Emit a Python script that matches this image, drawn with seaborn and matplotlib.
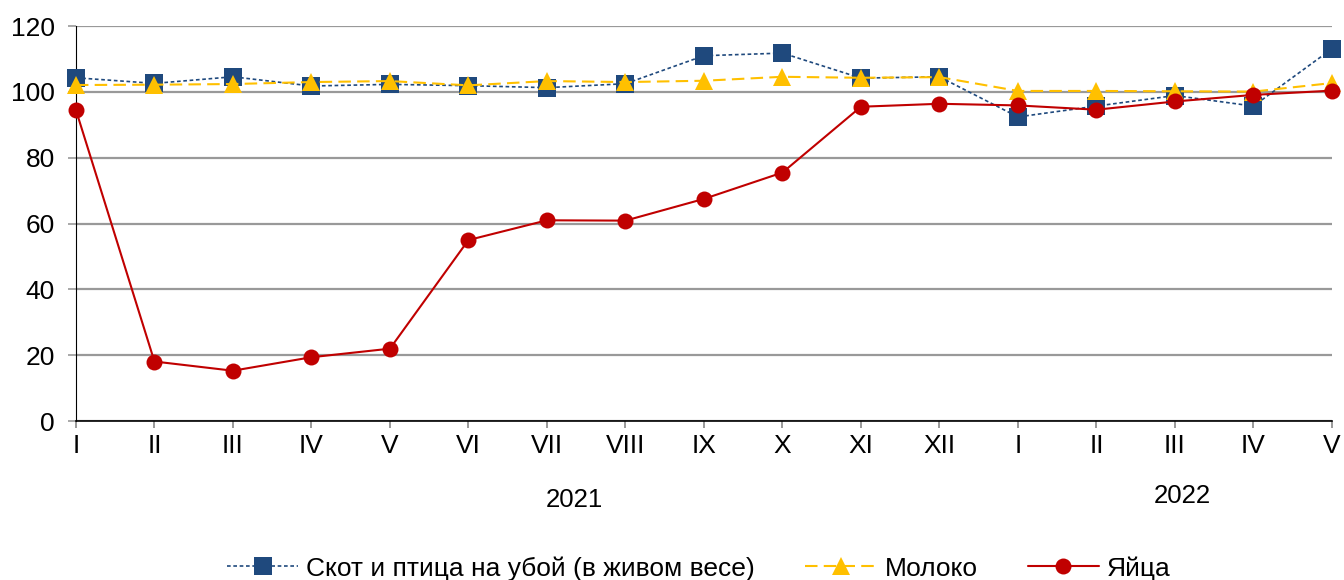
"""Индексы производства: скот и птица, молоко, яйца (2021-2022)."""
import matplotlib
matplotlib.use('Agg')
import matplotlib.pyplot as plt
import matplotlib.transforms as mtransforms
import seaborn as sns
import pandas as pd

months = ['I', 'II', 'III', 'IV', 'V', 'VI', 'VII', 'VIII', 'IX', 'X', 'XI', 'XII',
          'I', 'II', 'III', 'IV', 'V']
livestock = [104.3, 102.6, 104.6, 101.8, 102.3, 101.9, 101.3, 102.5, 111.0, 111.8,
             104.2, 104.6, 92.4, 95.7, 98.9, 95.7, 113.1]
milk = [102.1, 102.2, 102.4, 103.0, 103.3, 102.0, 103.3, 103.0, 103.4, 104.6,
        104.3, 104.5, 100.3, 100.3, 100.2, 100.1, 102.7]
eggs = [94.5, 18.1, 15.3, 19.4, 22.0, 55.0, 61.0, 60.9, 67.5, 75.5,
        95.5, 96.4, 95.9, 94.6, 97.1, 99.1, 100.4]
years = ['2021', '2022']
year_pos = [6.35, 14.1]

labels = ['Скот и птица на убой (в живом весе)', 'Молоко', 'Яйца']

df = pd.DataFrame({'pos': range(len(months)), 'livestock': livestock,
                   'milk': milk, 'eggs': eggs})

sns.set_style('white')
plt.rcParams['font.family'] = ['Liberation Sans', 'DejaVu Sans']
plt.rcParams['text.color'] = 'black'

fig = plt.figure(figsize=(13.44, 5.8), dpi=100)
ax = fig.add_axes([0.0565, 0.274, 0.9345, 0.681])

sns.lineplot(data=df, x='pos', y='livestock', ax=ax, color='#1F497D',
             linestyle=(0, (2.2, 1.6)), linewidth=1.2, marker='s', markersize=12.5,
             markeredgewidth=0, label=labels[0], clip_on=False, zorder=3)
sns.lineplot(data=df, x='pos', y='milk', ax=ax, color='#FFC000',
             linestyle=(0, (6, 3)), linewidth=1.5, marker='^', markersize=12.5,
             markeredgewidth=0, label=labels[1], clip_on=False, zorder=4)
sns.lineplot(data=df, x='pos', y='eggs', ax=ax, color='#C00000',
             linestyle='-', linewidth=1.5, marker='o', markersize=11.5,
             markeredgewidth=0, label=labels[2], clip_on=False, zorder=5)

ax.set_xlim(0, len(months) - 1)
ax.set_ylim(0, 120)
ax.set_yticks(range(0, 121, 20))
ax.set_xticks(range(len(months)))
ax.set_xticklabels(months)
ax.set_xlabel(''); ax.set_ylabel('')

ax.yaxis.grid(True, color='#999999', linewidth=1.6)
ax.set_axisbelow(True)
for s in ['top', 'right']:
    ax.spines[s].set_visible(False)
ax.spines['left'].set_color('black'); ax.spines['left'].set_linewidth(0.8)
ax.spines['bottom'].set_color('black'); ax.spines['bottom'].set_linewidth(1.2)
ax.spines['bottom'].set_zorder(2)

ax.tick_params(axis='y', length=6, width=1.2, color='#999999', pad=9,
               labelsize=19, labelcolor='black', left=True)
ax.tick_params(axis='x', length=5, width=1.2, color='#888888', pad=4,
               labelsize=19, labelcolor='black', bottom=True, direction='out')

trans = mtransforms.blended_transform_factory(ax.transData, ax.transAxes)
ax.text(year_pos[0], -0.2, years[0], transform=trans, ha='center', va='center',
        fontsize=18.5, color='black')
ax.text(year_pos[1], -0.19, years[1], transform=trans, ha='center', va='center',
        fontsize=18.5, color='black')

ax.legend_.remove()
handles, lbls = ax.get_legend_handles_labels()
fig.legend(handles, lbls, loc='center', bbox_to_anchor=(0.52, 0.02), ncol=3,
           frameon=False, fontsize=19, handlelength=2.7, handletextpad=0.3,
           columnspacing=1.9, labelcolor='black')

plt.savefig('out.png', dpi=100)
plt.close()
